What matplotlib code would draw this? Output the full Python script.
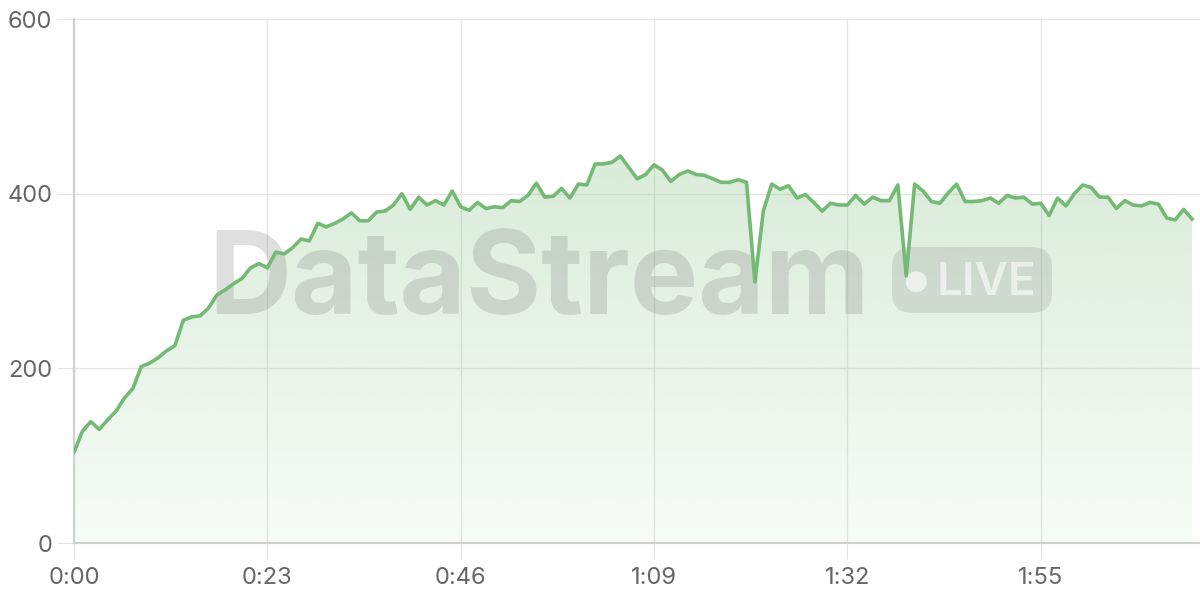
import numpy as np
import matplotlib
matplotlib.use("Agg")
import matplotlib.pyplot as plt
from matplotlib.patches import FancyBboxPatch, Circle
from matplotlib.transforms import Affine2D
from matplotlib.colors import to_rgb

# ---- data (one value per second) ----
values = [104, 128, 139, 130, 141, 151, 166, 177, 202, 206,
          212, 220, 226, 255, 259, 260, 269, 284, 290, 297,
          303, 315, 320, 315, 333, 331, 338, 348, 346, 366,
          362, 366, 371, 378, 369, 369, 379, 380, 387, 400,
          382, 396, 387, 392, 387, 403, 385, 381, 390, 383,
          385, 384, 392, 391, 398, 412, 396, 397, 406, 395,
          411, 410, 434, 434, 436, 443, 430, 417, 422, 433,
          427, 414, 422, 426, 422, 421, 417, 413, 413, 416,
          413, 299, 380, 411, 405, 409, 395, 399, 390, 380,
          389, 387, 387, 398, 388, 396, 392, 392, 410, 306,
          411, 403, 391, 389, 401, 411, 391, 391, 392, 395,
          389, 398, 395, 396, 388, 389, 375, 395, 386, 400,
          410, 407, 396, 396, 383, 392, 387, 386, 390, 388,
          372, 370, 382, 371]
seconds = list(range(len(values)))
tick_seconds = [0, 23, 46, 69, 92, 115]
tick_labels = ["0:00", "0:23", "0:46", "1:09", "1:32", "1:55"]
y_ticks = [0, 200, 400, 600]
y_tick_labels = ["0", "200", "400", "600"]
watermark_text = "DataStream"
badge_text = "LIVE"

plt.rcParams['font.family'] = ['Inter', 'DejaVu Sans']

W, H = 1200, 600
fig = plt.figure(figsize=(12, 6), dpi=100)
fig.patch.set_facecolor('white')
ax = fig.add_axes([74 / W, 1 - 543 / H, (1199.6 - 74) / W, (543 - 19) / H])
ax.set_facecolor('white')

line_color = '#74b974'
x = np.array(seconds, dtype=float)
y = np.array(values, dtype=float)

# gradient fill under line
poly = ax.fill_between(x, 0, y, facecolor='none', edgecolor='none', zorder=1)
grad = np.linspace(0, 1, 256)[:, None]
img = np.zeros((256, 1, 4))
img[..., 0:3] = to_rgb(line_color)
img[..., 3] = 0.05 + 0.30 * grad
im = ax.imshow(img, extent=[0, x[-1], 0, 600], origin='lower',
               aspect='auto', zorder=1, interpolation='bilinear')
im.set_clip_path(poly.get_paths()[0], transform=ax.transData)

ax.plot(x, y, color=line_color, lw=2.6, zorder=4, solid_joinstyle='round')

ax.set_xlim(0, 133.9)
ax.set_ylim(0, 600)
ax.set_xticks(tick_seconds)
ax.set_xticklabels(tick_labels)
ax.set_yticks(y_ticks)
ax.set_yticklabels(y_tick_labels)

ax.grid(True, color='#e6e6e6', lw=1.0)
ax.set_axisbelow(True)
for s in ['top', 'right']:
    ax.spines[s].set_visible(False)
for s in ['left', 'bottom']:
    ax.spines[s].set_color('#d0d0d0')
    ax.spines[s].set_linewidth(1.5)
ax.tick_params(axis='both', length=11.5, width=0.75, color='#e0e0e0',
               labelcolor='#666666', labelsize=17)
ax.tick_params(axis='y', pad=4)
ax.tick_params(axis='x', pad=6)

# ---- watermark (pixel coordinates, top-left origin) ----
T = Affine2D().scale(1 / W, -1 / H).translate(0, 1) + fig.transFigure
wm = ax.text(539, 314, watermark_text, transform=T, ha='center', va='baseline',
             fontsize=84, fontweight='bold', color='#808080', alpha=0.25,
             zorder=2, clip_on=False)
fig.canvas.draw()
bb = wm.get_window_extent()
wm.set_fontsize(84 * 662 / bb.width)

badge = FancyBboxPatch((892, 247), 160, 66, boxstyle="round,pad=0,rounding_size=20",
                       transform=T, facecolor='#808080', edgecolor='none',
                       alpha=0.2, zorder=2, clip_on=False)
ax.add_patch(badge)
ax.add_patch(Circle((916.3, 281.7), 10.5, transform=T, facecolor='white',
                    edgecolor='none', alpha=0.6, zorder=3, clip_on=False))
ax.text(937, 295, badge_text, transform=T, ha='left', va='baseline',
        fontsize=33, fontweight='semibold', color='white', alpha=0.6,
        zorder=3, clip_on=False)

fig.savefig('out.png', dpi=100, facecolor='white')
